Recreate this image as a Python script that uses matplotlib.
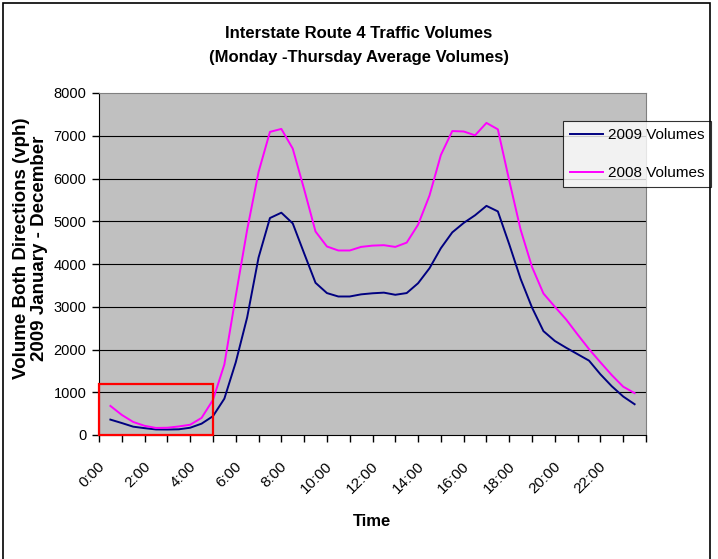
import matplotlib
matplotlib.use("Agg")
import matplotlib.pyplot as plt
from matplotlib.patches import Rectangle
from matplotlib.transforms import ScaledTranslation

# half-hour readings (hours after midnight)
hours = [0.5, 1.0, 1.5, 2.0, 2.5, 3.0, 3.5, 4.0, 4.5, 5.0, 5.5, 6.0,
         6.5, 7.0, 7.5, 8.0, 8.5, 9.0, 9.5, 10.0, 10.5, 11.0, 11.5, 12.0,
         12.5, 13.0, 13.5, 14.0, 14.5, 15.0, 15.5, 16.0, 16.5, 17.0, 17.5, 18.0,
         18.5, 19.0, 19.5, 20.0, 20.5, 21.0, 21.5, 22.0, 22.5, 23.0, 23.5]

vol_2009 = [360, 280, 195, 160, 130, 128, 133, 170, 265, 440, 850, 1700,
            2750, 4150, 5075, 5200, 4950, 4250, 3560, 3320, 3240, 3240, 3290, 3315,
            3330, 3280, 3320, 3550, 3900, 4370, 4740, 4960, 5140, 5360, 5230, 4460,
            3650, 2980, 2430, 2200, 2040, 1890, 1740, 1420, 1140, 900, 720]

vol_2008 = [680, 470, 305, 215, 165, 170, 200, 240, 400, 820, 1650, 3250,
            4800, 6150, 7090, 7160, 6700, 5750, 4760, 4410, 4316, 4316, 4400, 4430,
            4440, 4400, 4500, 4920, 5600, 6550, 7110, 7100, 7010, 7300, 7150, 5950,
            4800, 3930, 3310, 3000, 2700, 2350, 2010, 1700, 1400, 1130, 980]

tick_pos = [0.5, 2.5, 4.5, 6.5, 8.5, 10.5, 12.5, 14.5, 16.5, 18.5, 20.5, 22.5]
tick_labels = ["0:00", "2:00", "4:00", "6:00", "8:00", "10:00", "12:00",
               "14:00", "16:00", "18:00", "20:00", "22:00"]

plt.rcParams['font.family'] = ['Liberation Sans', 'DejaVu Sans']

fig = plt.figure(figsize=(7.18, 5.59), dpi=100)
ax = fig.add_axes([99/718, 1-435/559, 547/718, 342/559])
ax.set_facecolor('#C0C0C0')

ax.plot(hours, vol_2009, color='#000080', lw=1.4, label='2009 Volumes', zorder=3)
ax.plot(hours, vol_2008, color='#FF00FF', lw=1.4, label='2008 Volumes', zorder=3)

# highlighted night-time block
ax.add_patch(Rectangle((0, 0), 5, 1200, fill=False, edgecolor='#FF0000',
                       lw=1.6, clip_on=False, zorder=4))

ax.set_xlim(0, 24)
ax.set_ylim(0, 8000)
ax.set_yticks(range(0, 8001, 1000))
ax.set_xticks(range(0, 25))
ax.set_xticklabels([])
ax.set_xticks(tick_pos, minor=True)
ax.set_xticklabels(tick_labels, minor=True, rotation=45, ha='right', va='bottom',
                   rotation_mode='anchor', fontsize=11)
ax.tick_params(axis='x', which='minor', length=0, pad=24.5)
ax.tick_params(axis='x', which='major', length=5, width=1, direction='out')
ax.tick_params(axis='y', length=5, width=1, direction='out', labelsize=10.5, pad=4)

ax.grid(True, axis='y', color='black', lw=0.8)
gl = ax.get_ygridlines()
gl[0].set_visible(False)
gl[-1].set_visible(False)
ax.set_axisbelow(True)

for s in ['top', 'right']:
    ax.spines[s].set_color('#808080')
for s in ['left', 'bottom']:
    ax.spines[s].set_color('black')

ax.set_xlabel('Time', fontsize=12, fontweight='bold', va='center')
ax.xaxis.set_label_coords(0.499, -0.254)
ax.set_ylabel('Volume Both Directions (vph)\n2009 January - December',
              fontsize=13.5, fontweight='bold', va='center', linespacing=1.02)
ax.yaxis.set_label_coords(-0.125, 0.547)

fig.text(0.5, 1-45.5/559, 'Interstate Route 4 Traffic Volumes\n(Monday -Thursday Average Volumes)',
         ha='center', va='center', fontsize=12, fontweight='bold', linespacing=1.75)

leg = ax.legend(loc='upper left', bbox_to_anchor=(563/718, 1-121/559),
                bbox_transform=fig.transFigure, borderaxespad=0, fontsize=11,
                frameon=True, fancybox=False, handlelength=2.2, handletextpad=0.3,
                labelspacing=1.6, borderpad=0.45)
leg.get_frame().set_edgecolor('black')
leg.get_frame().set_linewidth(0.8)

# chart area border
fig.add_artist(Rectangle((3/718, -0.01), 707/718, 1-3/559+0.01, transform=fig.transFigure,
                         fill=False, edgecolor='black', lw=1.2))

fig.canvas.draw()
shift = ScaledTranslation(-3/100, 0, fig.dpi_scale_trans)
for lab in ax.get_xticklabels(minor=True):
    lab.set_transform(lab.get_transform() + shift)

fig.savefig('out.png', dpi=100)
